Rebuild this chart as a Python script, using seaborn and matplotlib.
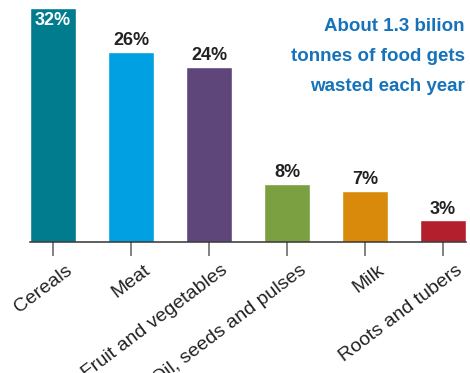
import matplotlib
matplotlib.use("Agg")
import matplotlib.pyplot as plt
import matplotlib.transforms as mtransforms
import seaborn as sns
import pandas as pd

# Food waste share by category
categories = ["Cereals", "Meat", "Fruit and vegetables", "Oil, seeds and pulses", "Milk", "Roots and tubers"]
shares = [32, 26, 24, 8, 7, 3]
colors = ["#007C8E", "#00A0E2", "#5F467A", "#7AA041", "#D98A0A", "#B41F2D"]
note_lines = ["About 1.3 bilion", "tonnes of food gets", "wasted each year"]

df = pd.DataFrame({"category": categories, "share": shares})

sns.set_style("white")
plt.rcParams["font.family"] = ["Liberation Sans", "DejaVu Sans"]

fig = plt.figure(figsize=(4.7, 3.73), dpi=100)
ax = fig.add_axes([30 / 470, 131 / 373, 436 / 470, 242 / 373])

sns.barplot(data=df, x="category", y="share", hue="category", palette=colors,
            width=0.59, legend=False, saturation=1, ax=ax)

ax.set_xlim(-0.295, 5.295)
ax.set_ylim(0, 33.1)
ax.set_xlabel("")
ax.set_ylabel("")
ax.set_yticks([])
for side in ["top", "right", "left"]:
    ax.spines[side].set_visible(False)
ax.spines["bottom"].set_color("#333333")
ax.spines["bottom"].set_linewidth(1.1)
ax.tick_params(axis="x", length=10, width=1.3, color="#777777", pad=4, bottom=True)
ax.set_xticks(range(len(categories)))
ax.set_xticklabels(categories, rotation=37, ha="right", va="top", rotation_mode="anchor",
                   fontsize=14, color="#222222")
shift = mtransforms.ScaledTranslation(12 / 100, 0, fig.dpi_scale_trans)
for lab in ax.get_xticklabels():
    lab.set_transform(lab.get_transform() + shift)

# value labels
for i, v in enumerate(shares):
    if i == 0:
        ax.text(i, v - 0.6, f"{v}%", ha="center", va="top", color="white",
                fontsize=13, fontweight="bold")
    else:
        ax.text(i, v + 0.35, f"{v}%", ha="center", va="bottom", color="#222222",
                fontsize=13, fontweight="bold")

# note, top right
for k, line in enumerate(note_lines):
    fig.text(465 / 470, 1 - (31 + 30 * k) / 373, line, ha="right", va="baseline",
             color="#1673BA", fontsize=13.5, fontweight="bold")

fig.savefig("out.png", dpi=100)
